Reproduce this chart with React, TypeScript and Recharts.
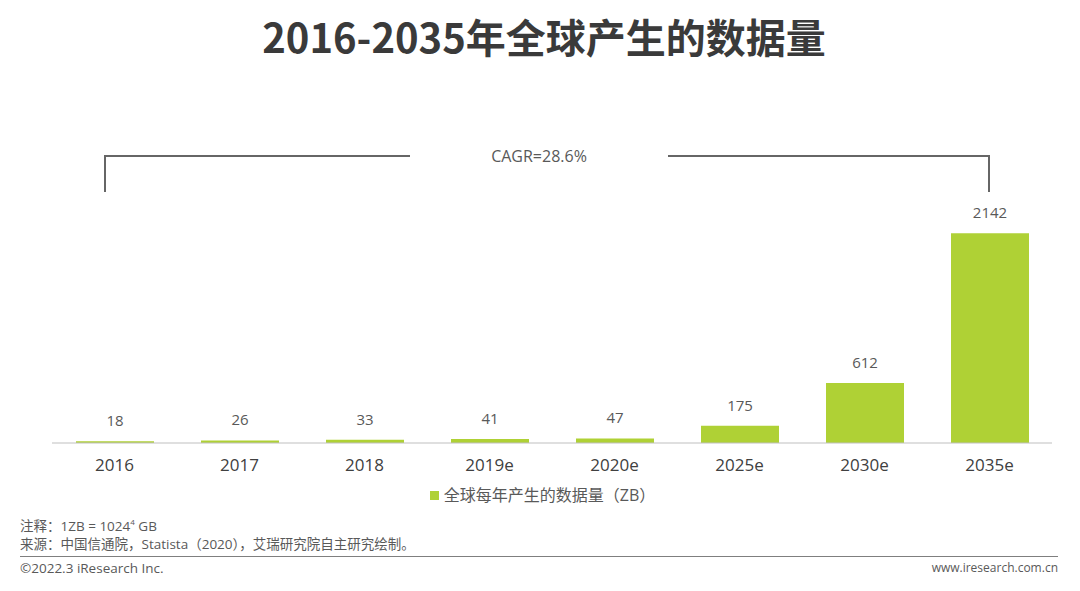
import React from "react";
import { BarChart, Bar, XAxis, YAxis, LabelList } from "recharts";

const years = ["2016", "2017", "2018", "2019e", "2020e", "2025e", "2030e", "2035e"];
const dataZB = [18, 26, 33, 41, 47, 175, 612, 2142];
const seriesName = "全球每年产生的数据量（ZB）";
const cagrLabel = "CAGR=28.6%";

const GREEN = "#afd135";
const FONT = '"Open Sans", "Noto Sans CJK SC", sans-serif';

const data = years.map((y, i) => ({ year: y, value: dataZB[i] }));

export default function App() {
  return (
    <div
      style={{
        position: "absolute",
        left: 0,
        top: 0,
        width: 1080,
        height: 591,
        background: "#fff",
        fontFamily: FONT,
        overflow: "hidden",
      }}
    >
      <div
        style={{
          position: "absolute",
          top: 10,
          left: 4,
          width: 1080,
          textAlign: "center",
          fontSize: 40,
          fontWeight: 700,
          color: "#3a3a3a",
          lineHeight: "52px",
          fontFamily: '"Noto Sans CJK SC", "Open Sans", sans-serif',
        }}
      >
        2016-2035年全球产生的数据量
      </div>

      {/* CAGR bracket */}
      <div
        style={{
          position: "absolute",
          left: 104,
          top: 155,
          width: 306,
          height: 37,
          borderTop: "2px solid #666",
          borderLeft: "2px solid #666",
          boxSizing: "border-box",
        }}
      />
      <div
        style={{
          position: "absolute",
          left: 668,
          top: 155,
          width: 322,
          height: 37,
          borderTop: "2px solid #666",
          borderRight: "2px solid #666",
          boxSizing: "border-box",
        }}
      />
      <div
        style={{
          position: "absolute",
          left: 410,
          width: 258,
          top: 145,
          textAlign: "center",
          fontSize: 16,
          color: "#595959",
          lineHeight: "22px",
        }}
      >
        {cagrLabel}
      </div>

      <div style={{ position: "absolute", left: 0, top: 0 }}>
        <BarChart
          width={1080}
          height={483}
          data={data}
          margin={{ top: 208, right: 28, bottom: 0, left: 52 }}
          barSize={78}
        >
          <XAxis
            dataKey="year"
            axisLine={{ stroke: "#bfbfbf", strokeWidth: 1 }}
            tickLine={false}
            tickMargin={10}
            height={40}
            tick={{ fill: "#404040", fontSize: 17, fontFamily: FONT }}
            interval={0}
          />
          <YAxis hide domain={[0, 2400]} />
          <Bar dataKey="value" fill={GREEN} isAnimationActive={false} name={seriesName}>
            <LabelList
              dataKey="value"
              position="top"
              offset={15}
              fill="#595959"
              fontSize={15}
              fontFamily={FONT}
            />
          </Bar>
        </BarChart>
      </div>

      {/* legend */}
      <div
        style={{
          position: "absolute",
          top: 484,
          left: 0,
          width: 1080,
          display: "flex",
          justifyContent: "center",
          alignItems: "center",
          fontSize: 16,
          color: "#595959",
          lineHeight: "22px",
        }}
      >
        <span
          style={{
            display: "inline-block",
            width: 9,
            height: 9,
            background: GREEN,
            marginRight: 5,
            marginLeft: 5,
          }}
        />
        {seriesName}
      </div>

      {/* footer */}
      <div
        style={{
          position: "absolute",
          left: 20,
          top: 513,
          fontSize: 13.5,
          color: "#595959",
          lineHeight: "18px",
        }}
      >
        <div>
          注释：1ZB = 1024<sup style={{ fontSize: 8 }}>4</sup> GB
        </div>
        <div>来源：中国信通院，Statista（2020），艾瑞研究院自主研究绘制。</div>
      </div>
      <div
        style={{
          position: "absolute",
          left: 20,
          top: 556,
          width: 1038,
          height: 0,
          borderTop: "1px solid #7f7f7f",
        }}
      />
      <div
        style={{
          position: "absolute",
          left: 20,
          top: 559,
          fontSize: 13.5,
          color: "#595959",
          lineHeight: "18px",
        }}
      >
        ©2022.3 iResearch Inc.
      </div>
      <div
        style={{
          position: "absolute",
          right: 22,
          top: 559,
          fontSize: 12,
          color: "#595959",
          lineHeight: "18px",
        }}
      >
        www.iresearch.com.cn
      </div>
    </div>
  );
}
